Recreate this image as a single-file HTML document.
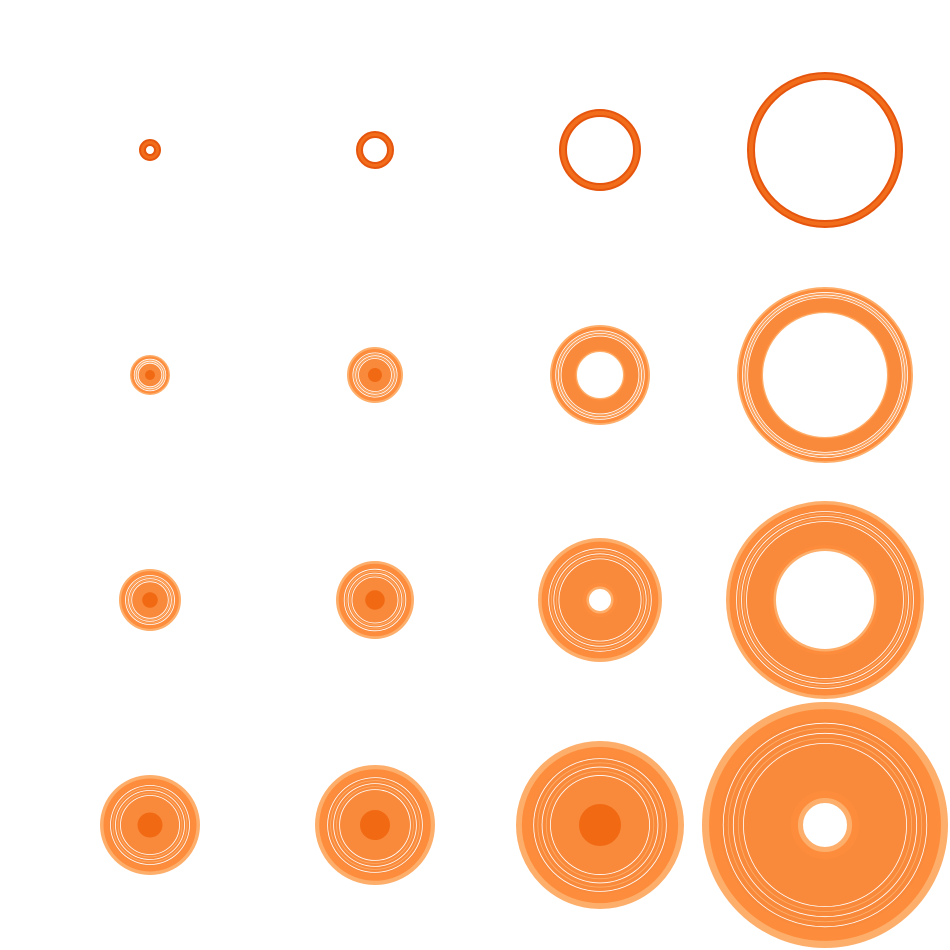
<!DOCTYPE html>
<html><head><meta charset="utf-8"><style>html,body{margin:0;background:#fff}svg{display:block}</style></head>
<body>
<svg id="chart" width="950" height="950" viewBox="0 0 950 950"></svg>
<script>
const colCenters = [150, 375, 600, 825];
const rowCenters = [150, 375, 600, 825];
const outerRadii = [[11,19,41,78],[20,28,50,88],[31,39,62,99],[50,60,84,123]];
const innerRadii = [[4,12,33,70],[0,0,23,62],[0,0,11,49],[0,0,0,22]];
const NS = 'http://www.w3.org/2000/svg';
const svg = document.getElementById('chart');
function ring(g, cx, cy, ro, ri, color, name){
  const c = document.createElementNS(NS,'circle');
  
  
  c.setAttribute('cx',cx);c.setAttribute('cy',cy);
  c.setAttribute('r',(ro+ri)/2);
  c.setAttribute('fill','none');c.setAttribute('stroke',color);
  c.setAttribute('stroke-width',Math.max(ro-ri,0.5));
  g.appendChild(c);
}
rowCenters.forEach((cy,r)=>{
  colCenters.forEach((cx,c)=>{
    const ro = outerRadii[r][c], ri = innerRadii[r][c];
    const g = document.createElementNS(NS,'g');
    
    
    svg.appendChild(g);
    if (r===0){
      ring(g,cx,cy,ro,ri,'#e6550d','ring-band');
      ring(g,cx,cy,ro-2,ri+2,'#f26d1b','ring-inner-band');
      return;
    }
    const w = ro-ri;
    ring(g,cx,cy,ro,ri,'#fdae6b','ring-outer-band');
    ring(g,cx,cy,ro-w*0.07,ri+w*0.05,'#fd8d3c','ring-mid-band');
    ring(g,cx,cy,ro-w*0.18,ri+w*0.12,'#f98a3c','ring-core-band');
    for (let k=1;k<6;k++){
      const rr = ro - w*0.16 - k*w*0.05;
      if (rr<=ri+2) break;
      const l = document.createElementNS(NS,'circle');
      
      
      l.setAttribute('cx',cx);l.setAttribute('cy',cy);l.setAttribute('r',rr);
      l.setAttribute('fill','none');
      l.setAttribute('stroke', k%2? '#ffffff':'#fdae6b');
      l.setAttribute('stroke-width', 0.8);
      g.appendChild(l);
    }
    if (ri===0) ring(g,cx,cy,w*0.25,0,'#f16913','ring-center');
  });
});
</script>
</body></html>
